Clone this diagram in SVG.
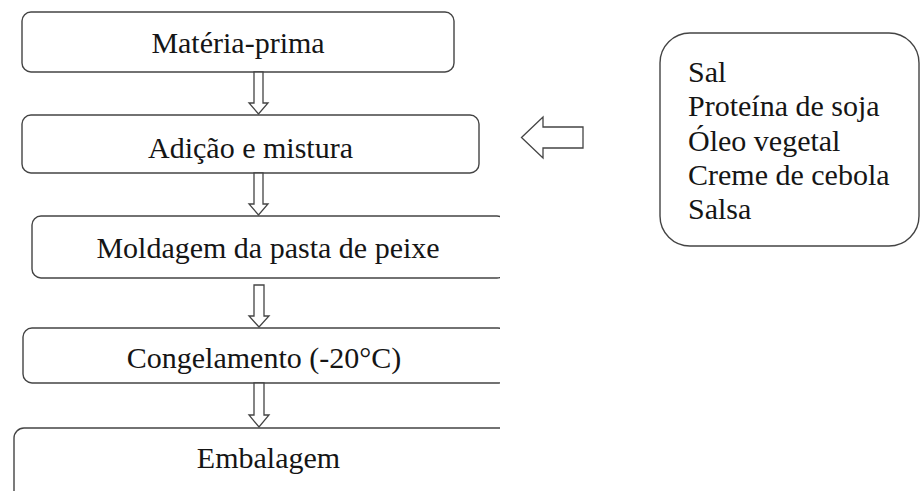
<svg xmlns="http://www.w3.org/2000/svg" width="921" height="491" viewBox="0 0 921 491">
<style>
.box{fill:#fff;stroke:#444;stroke-width:1.4}
.arr{fill:#fff;stroke:#444;stroke-width:1.3;stroke-linejoin:miter}
text{font-family:'Liberation Serif','Times New Roman',serif;font-size:30px;fill:#151515}
.c{text-anchor:middle}
</style>
<defs>
<clipPath id="clipL"><rect x="0" y="0" width="500" height="491"/></clipPath>
</defs>
<g font-family="Liberation Serif, serif">
<g id="n1"><rect class="box" x="22" y="12" width="432" height="60" rx="9"/><text class="c" x="238" y="53">Matéria-prima</text></g>
<g id="n2"><rect class="box" x="22" y="115" width="457" height="58" rx="9"/><text class="c" x="250.5" y="158">Adição e mistura</text></g>
<g id="n3" clip-path="url(#clipL)"><rect class="box" x="32" y="216" width="474" height="62" rx="9"/><text class="c" x="268" y="258">Moldagem da pasta de peixe</text></g>
<g id="n4" clip-path="url(#clipL)"><rect class="box" x="23" y="328" width="484" height="55" rx="9"/><text class="c" x="264" y="368">Congelamento (-20°C)</text></g>
<g id="n5" clip-path="url(#clipL)"><rect class="box" x="14" y="428" width="510" height="90" rx="10"/><text class="c" x="268.5" y="468">Embalagem</text></g>
<g id="n6"><rect class="box" x="660" y="33" width="259" height="213" rx="30"/>
<text x="688" y="82">Sal</text>
<text x="688" y="116">Proteína de soja</text>
<text x="688" y="150.5">Óleo vegetal</text>
<text x="688" y="185">Creme de cebola</text>
<text x="688" y="219">Salsa</text>
</g>
</g>
<g id="connectors">
<polygon class="arr" points="254,72 263,72 263,103 268,103 258.5,114 249,103 254,103"/>
<polygon class="arr" points="254,173 263,173 263,204 268,204 258.5,215 249,204 254,204"/>
<polygon class="arr" points="254,285 264,285 264,316 269,316 259,327 249,316 254,316"/>
<polygon class="arr" points="254,383 264,383 264,415 269,415 259,427 249,415 254,415"/>
<polygon class="arr" points="521.5,137.5 543,117 543,127 583,127 583,148 543,148 543,158"/>
</g>
</svg>
